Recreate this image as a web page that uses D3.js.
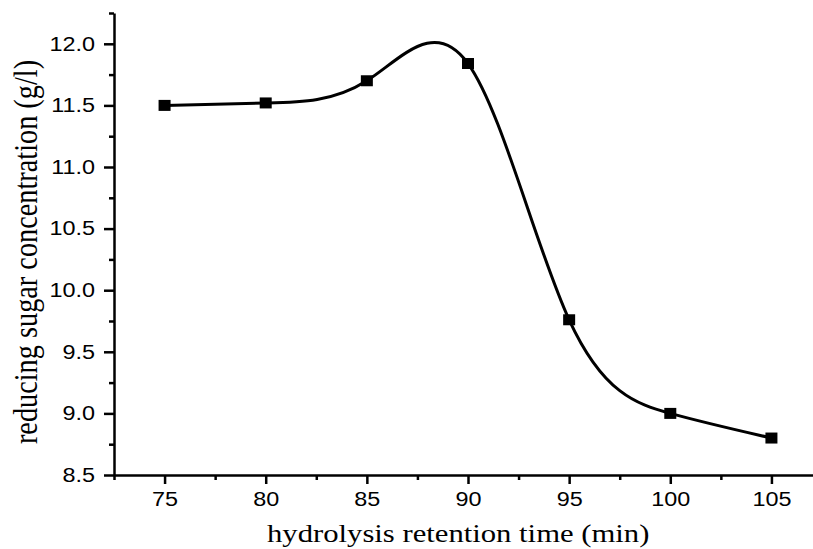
<!DOCTYPE html>
<html>
<head>
<meta charset="utf-8">
<script src="https://cdn.jsdelivr.net/npm/d3@7"></script>
<style>
  body { margin: 0; background: #fff; }
  svg { display: block; }
</style>
</head>
<body>
<svg id="chart" width="813" height="549"></svg>
<script>
// retention time (min) vs reducing sugar (g/l)
var times = [75, 80, 85, 90, 95, 100, 105];
var sugar = [11.50, 11.52, 11.70, 11.84, 9.76, 9.00, 8.80];
var xTicks = [75, 80, 85, 90, 95, 100, 105];
var yTicks = [8.5, 9.0, 9.5, 10.0, 10.5, 11.0, 11.5, 12.0];

var svg = d3.select("#chart");
var stretch = 1.2; // text in the picture is widened

var x = d3.scaleLinear().domain([72.5, 107.5]).range([114, 822]);
var y = d3.scaleLinear().domain([8.5, 12.25]).range([475, 13]);

// widen a text horizontally around its own x
function widen(sel, k) {
  sel.each(function() {
    var t = d3.select(this);
    var x0 = +(t.attr("x") || 0);
    t.attr("x", x0 / k).attr("transform", "scale(" + k + ",1)");
  });
}

// minor ticks
var xMinor = d3.range(72.5, 108, 2.5).filter(function(d) { return d % 5 != 0; });
var yMinor = d3.range(8.75, 12.3, 0.5);

svg.append("g")
  .attr("transform", "translate(0,475)")
  .call(d3.axisBottom(x).tickValues(xMinor).tickSize(5).tickFormat(""))
  .call(function(g) { g.select(".domain").remove(); g.selectAll("line").attr("stroke-width", 2.5); });

svg.append("g")
  .attr("transform", "translate(114,0)")
  .call(d3.axisLeft(y).tickValues(yMinor).tickSize(5).tickFormat(""))
  .call(function(g) { g.select(".domain").remove(); g.selectAll("line").attr("stroke-width", 2.5); });

var xAxis = svg.append("g")
  .attr("transform", "translate(0,475)")
  .call(d3.axisBottom(x).tickValues(xTicks).tickSize(9).tickSizeOuter(0).tickPadding(8).tickFormat(d3.format("d")));

var yAxis = svg.append("g")
  .attr("transform", "translate(114,0)")
  .call(d3.axisLeft(y).tickValues(yTicks).tickSize(10).tickSizeOuter(0).tickPadding(9).tickFormat(d3.format(".1f")));

xAxis.selectAll(".tick text").attr("text-anchor", "middle");
yAxis.selectAll(".tick text").attr("text-anchor", "end");

[xAxis, yAxis].forEach(function(g) {
  g.select(".domain").attr("stroke-width", 2.5);
  g.selectAll(".tick line").attr("stroke-width", 2.5);
  g.selectAll(".tick text")
    .attr("font-family", "'Liberation Sans', Arial, sans-serif")
    .attr("font-size", 19.5)
    .attr("fill", "#000")
    .call(widen, stretch);
});

// spline through the points
var line = d3.line()
  .x(function(d, i) { return x(times[i]); })
  .y(function(d) { return y(d); })
  .curve(d3.curveNatural);

svg.append("path")
  .datum(sugar)
  .attr("fill", "none")
  .attr("stroke", "#000")
  .attr("stroke-width", 3)
  .attr("d", line);

svg.selectAll("rect.pt")
  .data(sugar)
  .enter().append("rect")
  .attr("class", "pt")
  .attr("x", function(d, i) { return x(times[i]) - 6; })
  .attr("y", function(d) { return y(d) - 5.5; })
  .attr("width", 12)
  .attr("height", 11)
  .attr("fill", "#000");

// axis titles
svg.append("text")
  .attr("x", 267)
  .attr("y", 542)
  .attr("text-anchor", "start")
  .attr("font-family", "'Liberation Serif', 'Times New Roman', serif")
  .attr("font-size", 26)
  .text("hydrolysis retention time (min)")
  .call(widen, 1.18);

svg.append("text")
  .attr("transform", "translate(37,252) scale(1.2,1) rotate(-90)")
  .attr("text-anchor", "middle")
  .attr("font-family", "'Liberation Serif', 'Times New Roman', serif")
  .attr("font-size", 28.3)
  .text("reducing sugar concentration (g/l)");
</script>
</body>
</html>
